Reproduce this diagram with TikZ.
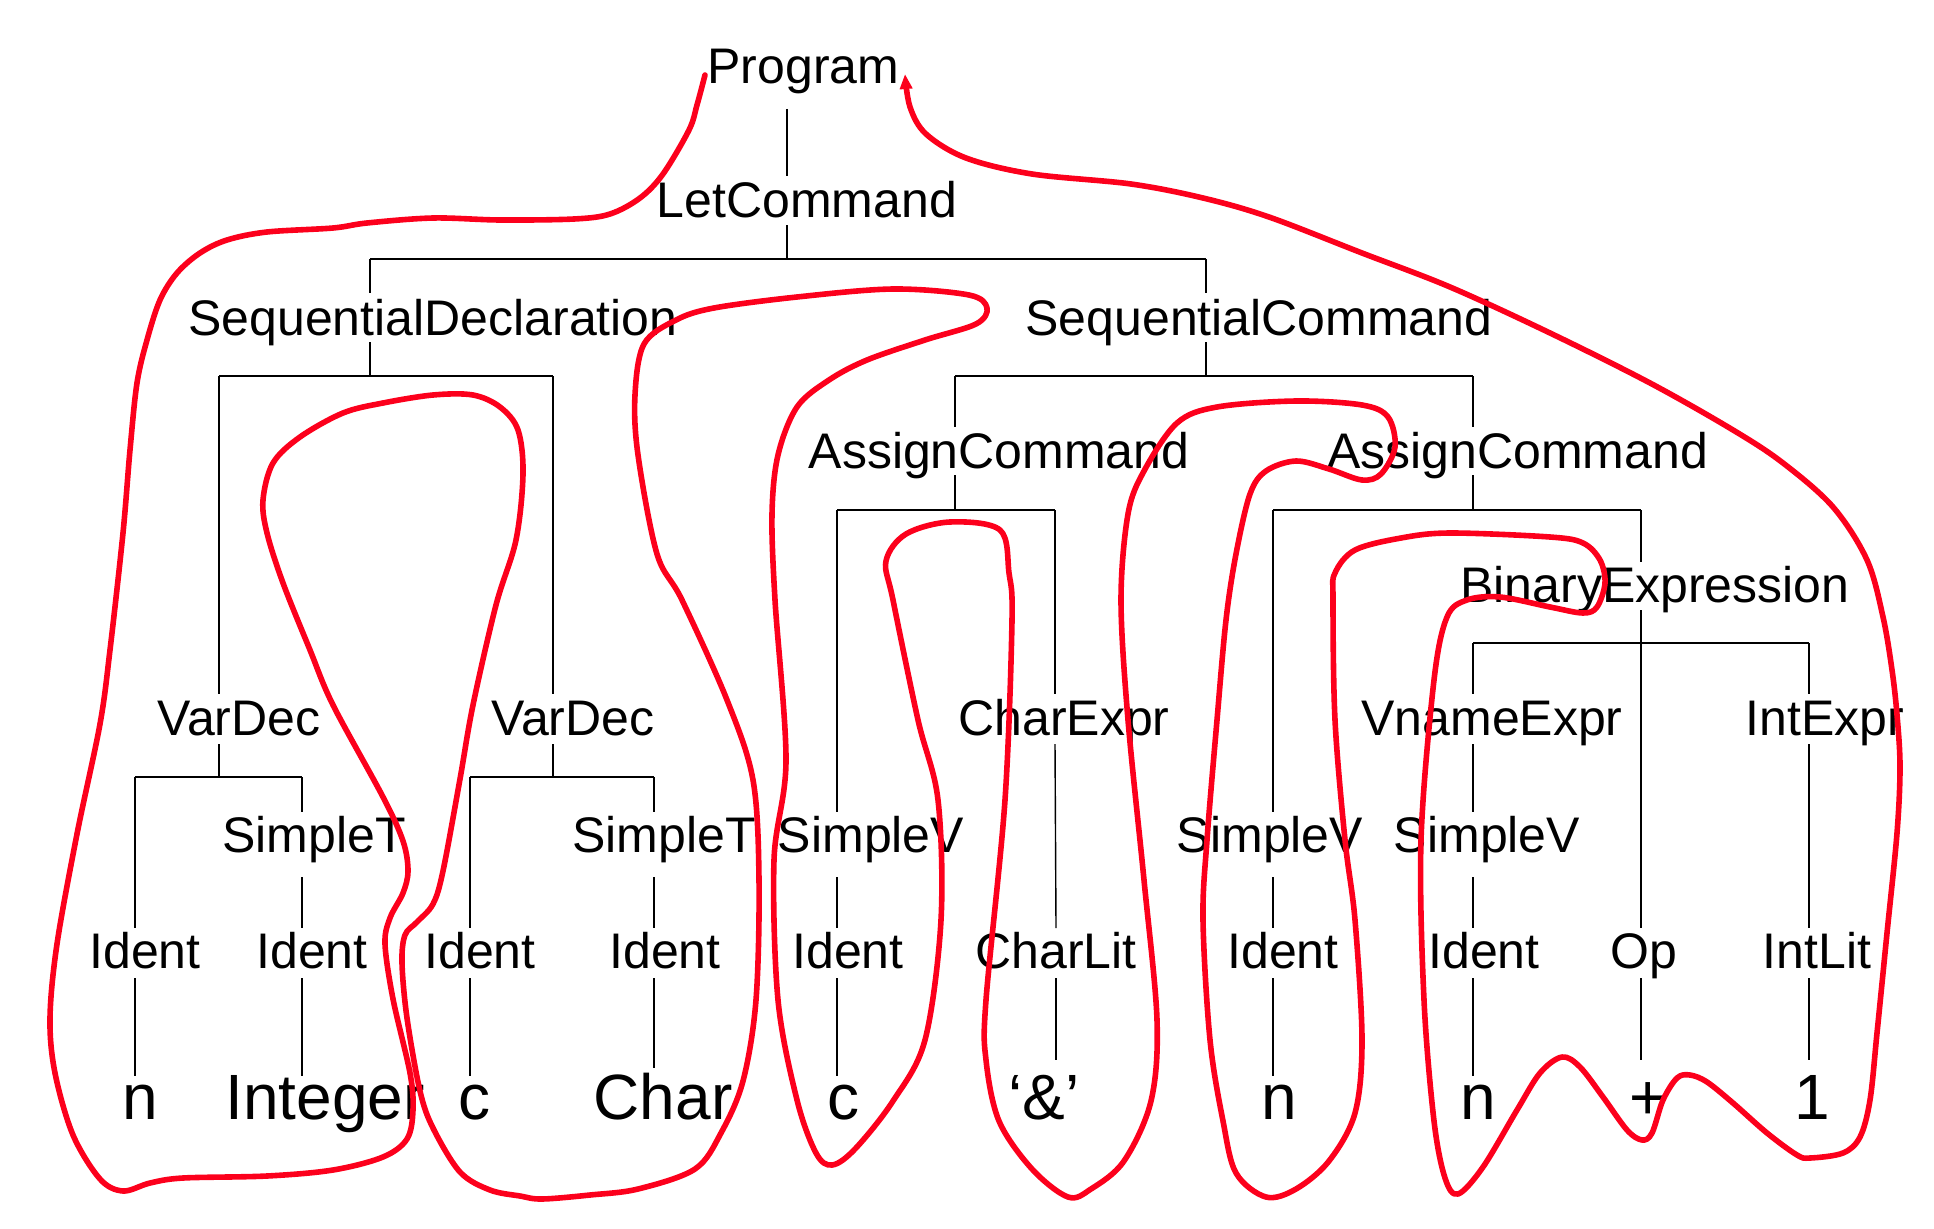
\documentclass[tikz,border=0pt]{standalone}
\usepackage{fontspec}
\setmainfont{Liberation Sans}
\usetikzlibrary{arrows.meta}
\definecolor{tourred}{RGB}{252,0,28}
\newcommand\TN[8]{\node[#8] (#1) at (#3,#4) {#2};\coordinate (#1-t) at (#5,#6);\coordinate (#1-b) at (#5,#7);}
\begin{document}
\begin{tikzpicture}[x=1pt,y=-1pt,
  lbl/.style={font=\fontsize{50}{60}\selectfont, inner sep=0pt, anchor=base},
  leaf/.style={font=\fontsize{64}{76}\selectfont, inner sep=0pt, anchor=base},
  stem/.style={line width=1.4pt, black},
  bar/.style={line width=1.6pt, black},
  tour/.style={line width=5.6pt, tourred, line cap=round, line join=round}]
\useasboundingbox (0,0) rectangle (1934,1228);
% ---- nodes: name, text, text x, baseline, stem x, top y, bottom y, style
\TN{Program}{Program}{803.5}{84}{787}{60}{109}{lbl}
\TN{LetCommand}{LetCommand}{807}{217}{787}{176}{225}{lbl}
\TN{SeqDecl}{SequentialDeclaration}{433}{335}{370}{293}{342}{lbl}
\TN{SeqCmd}{SequentialCommand}{1259}{335}{1206}{293}{342}{lbl}
\TN{VarDecA}{VarDec}{239}{735}{219}{694}{744}{lbl}
\TN{VarDecB}{VarDec}{573}{735}{553}{694}{744}{lbl}
\TN{AsgA}{AssignCommand}{999}{468}{955}{427}{475}{lbl}
\TN{AsgB}{AssignCommand}{1517.5}{468}{1473}{427}{475}{lbl}
\TN{SimpleTA}{SimpleT}{314}{852}{302}{811.5}{877}{lbl}
\TN{SimpleTB}{SimpleT}{664}{852}{654}{811.5}{877}{lbl}
\TN{SimpleVA}{SimpleV}{871}{852}{837}{811.5}{877}{lbl}
\TN{CharExpr}{CharExpr}{1064}{735}{1055}{694}{744}{lbl}
\TN{SimpleVB}{SimpleV}{1270}{852}{1273}{811.5}{877}{lbl}
\TN{BinExpr}{BinaryExpression}{1655}{602}{1641}{561.5}{610}{lbl}
\TN{VnameExpr}{VnameExpr}{1492}{735}{1473}{694}{744}{lbl}
\TN{SimpleVC}{SimpleV}{1487}{852}{1473}{811.5}{877}{lbl}
\TN{IntExpr}{IntExpr}{1825}{735}{1809}{694}{744}{lbl}
\TN{IdA}{Ident}{145}{968}{135}{928}{978}{lbl}
\TN{IdB}{Ident}{312}{968}{302}{928}{978}{lbl}
\TN{IdC}{Ident}{480}{968}{470}{928}{978}{lbl}
\TN{IdD}{Ident}{665}{968}{654}{928}{978}{lbl}
\TN{IdE}{Ident}{848}{968}{837}{928}{978}{lbl}
\TN{CharLit}{CharLit}{1056}{968}{1056}{928}{978}{lbl}
\TN{IdF}{Ident}{1283}{968}{1273}{928}{978}{lbl}
\TN{IdG}{Ident}{1484}{968}{1473}{928}{978}{lbl}
\TN{Op}{Op}{1644}{968}{1641}{928}{978}{lbl}
\TN{IntLit}{IntLit}{1817}{968}{1809}{928}{978}{lbl}
\TN{nA}{n}{140}{1119}{135}{1076}{1130}{leaf}
\TN{Integer}{Integer}{325}{1119}{302}{1076}{1130}{leaf}
\TN{cA}{c}{474}{1119}{470}{1076}{1130}{leaf}
\TN{Char}{Char}{663}{1119}{654}{1068}{1130}{leaf}
\TN{cB}{c}{843}{1119}{837}{1076}{1130}{leaf}
\TN{amp}{‘\&’}{1044}{1119}{1056}{1060}{1130}{leaf}
\TN{nB}{n}{1279}{1119}{1273}{1076}{1130}{leaf}
\TN{nC}{n}{1478}{1119}{1473}{1076}{1130}{leaf}
\TN{plus}{+}{1648}{1119}{1641}{1060}{1130}{leaf}
\TN{one}{1}{1812}{1119}{1809}{1060}{1130}{leaf}
% ---- junction points on the bars
\coordinate (J1) at (787,259);  \coordinate (J1a) at (370,259);  \coordinate (J1b) at (1206,259);
\coordinate (J2) at (370,376);  \coordinate (J2a) at (219,376);  \coordinate (J2b) at (553,376);
\coordinate (J3) at (1206,376); \coordinate (J3a) at (955,376);  \coordinate (J3b) at (1473,376);
\coordinate (J4) at (955,510);  \coordinate (J4a) at (837,510);  \coordinate (J4b) at (1055,510);
\coordinate (J5) at (1473,510); \coordinate (J5a) at (1273,510); \coordinate (J5b) at (1641,510);
\coordinate (J6a) at (1473,643); \coordinate (J6b) at (1809,643);
\coordinate (J7) at (219,777);  \coordinate (J7a) at (135,777);  \coordinate (J7b) at (302,777);
\coordinate (J8) at (553,777);  \coordinate (J8a) at (470,777);  \coordinate (J8b) at (654,777);
% ---- edges
\draw[stem] (Program-b) -- (LetCommand-t);
\draw[stem] (LetCommand-b) -- (J1);
\draw[bar] (J1a) -- (J1b);
\draw[stem] (J1a) -- (SeqDecl-t);
\draw[stem] (J1b) -- (SeqCmd-t);
\draw[stem] (SeqDecl-b) -- (J2);
\draw[bar] (J2a) -- (J2b);
\draw[stem] (J2a) -- (VarDecA-t);
\draw[stem] (J2b) -- (VarDecB-t);
\draw[stem] (SeqCmd-b) -- (J3);
\draw[bar] (J3a) -- (J3b);
\draw[stem] (J3a) -- (AsgA-t);
\draw[stem] (J3b) -- (AsgB-t);
\draw[stem] (AsgA-b) -- (J4);
\draw[bar] (J4a) -- (J4b);
\draw[stem] (J4a) -- (SimpleVA-t);
\draw[stem] (J4b) -- (CharExpr-t);
\draw[stem] (AsgB-b) -- (J5);
\draw[bar] (J5a) -- (J5b);
\draw[stem] (J5a) -- (SimpleVB-t);
\draw[stem] (J5b) -- (BinExpr-t);
\draw[stem] (BinExpr-b) -- (Op-t);
\draw[bar] (J6a) -- (J6b);
\draw[stem] (J6a) -- (VnameExpr-t);
\draw[stem] (J6b) -- (IntExpr-t);
\draw[stem] (VarDecA-b) -- (J7);
\draw[bar] (J7a) -- (J7b);
\draw[stem] (J7a) -- (IdA-t);
\draw[stem] (J7b) -- (SimpleTA-t);
\draw[stem] (VarDecB-b) -- (J8);
\draw[bar] (J8a) -- (J8b);
\draw[stem] (J8a) -- (IdC-t);
\draw[stem] (J8b) -- (SimpleTB-t);
\draw[stem] (SimpleTA-b) -- (IdB-t);
\draw[stem] (SimpleTB-b) -- (IdD-t);
\draw[stem] (SimpleVA-b) -- (IdE-t);
\draw[stem] (CharExpr-b) -- (CharLit-t);
\draw[stem] (SimpleVB-b) -- (IdF-t);
\draw[stem] (VnameExpr-b) -- (SimpleVC-t);
\draw[stem] (SimpleVC-b) -- (IdG-t);
\draw[stem] (IntExpr-b) -- (IntLit-t);
\draw[stem] (IdA-b) -- (nA-t);
\draw[stem] (IdB-b) -- (Integer-t);
\draw[stem] (IdC-b) -- (cA-t);
\draw[stem] (IdD-b) -- (Char-t);
\draw[stem] (IdE-b) -- (cB-t);
\draw[stem] (CharLit-b) -- (amp-t);
\draw[stem] (IdF-b) -- (nB-t);
\draw[stem] (IdG-b) -- (nC-t);
\draw[stem] (Op-b) -- (plus-t);
\draw[stem] (IntLit-b) -- (one-t);
% ---- the red tour
\draw[tour, -{Triangle[length=15pt,width=12pt]}] plot[smooth, tension=0.55] coordinates {
(705,75) (697,105) (689,130) (663,174) (640,198) (610,214) (574,219) (500,220) (433,218)
(367,223) (333,228) (267,232) (227,240) (200,253) (177,273) (160,300) (147,340) (137,383)
(130,450) (123,533) (110,650) (100,724) (77,834) (57,944) (50,1018) (55,1073) (73,1135)
(100,1179) (123,1191) (150,1183) (183,1178) (267,1176) (333,1170) (383,1157) (407,1139)
(413,1110) (410,1073) (393,999) (385,944) (390,918) (403,893) (408,871) (403,841)
(383,797) (333,705) (310,650) (283,583) (267,533) (263,500) (273,463) (300,437) (343,413)
(383,403) (433,395) (473,395) (500,407) (518,430) (523,474) (516,540) (496,605) (473,705)
(460,779) (443,871) (433,904) (417,922) (405,935) (402,963) (407,1018) (420,1091)
(433,1128) (460,1172) (490,1190) (520,1196) (542,1199)
(590,1195) (638,1189) (695,1169) (721,1133) (743,1081) (756,1000) (759,880) (753,780)
(727,700) (682,600) (657,554) (638,455) (635,395) (644,344) (676,320) (714,308) (797,297)
(893,289) (969,295) (987,308) (976,324) (925,340) (867,360) (829,380) (797,407) (778,455)
(772,514) (775,600) (786,760) (774,860) (778,1000) (797,1100) (816,1153) (832,1165)
(855,1149) (893,1101) (925,1040) (941,920) (938,800) (918,720) (893,600) (886,561)
(906,534) (950,522) (1000,530) (1009,573) (1012,620) (1005,800) (986,1000) (986,1060)
(999,1121) (1032,1169) (1068,1197) (1091,1189) (1124,1161) (1151,1101) (1157,1020)
(1144,880) (1128,720) (1121,600) (1128,514) (1144,471) (1177,423) (1217,407) (1296,401)
(1362,405) (1388,417) (1395,447) (1381,474) (1362,480) (1329,469) (1296,461) (1266,471)
(1250,494) (1236,554) (1226,620) (1217,720) (1207,840) (1203,920) (1210,1040) (1223,1121)
(1236,1173) (1266,1197) (1296,1189) (1329,1161) (1355,1113) (1362,1040) (1355,920)
(1345,840) (1335,720) (1333,600) (1335,573) (1355,550) (1401,538) (1450,533) (1550,537)
(1583,543) (1600,560) (1605,583) (1597,607) (1583,613) (1550,607) (1500,597) (1467,600)
(1447,617) (1434,680) (1421,840) (1424,1000) (1434,1121) (1445,1178) (1458,1194)
(1483,1167) (1517,1110) (1540,1073) (1562,1057) (1580,1067) (1603,1097) (1627,1130)
(1642,1140) (1652,1133) (1663,1100) (1677,1078) (1690,1075) (1707,1082) (1733,1103)
(1767,1133) (1797,1155) (1810,1158) (1843,1153) (1860,1137) (1870,1100) (1877,1033)
(1887,933) (1897,833) (1900,767) (1897,715) (1892,670) (1883,617) (1867,560) (1833,507)
(1783,463) (1733,430) (1650,383) (1550,333) (1450,287) (1362,253)
(1269,217) (1203,198) (1131,184) (1032,174) (966,158) (926,134) (910,107) (905,74)};
\end{tikzpicture}
\end{document}
